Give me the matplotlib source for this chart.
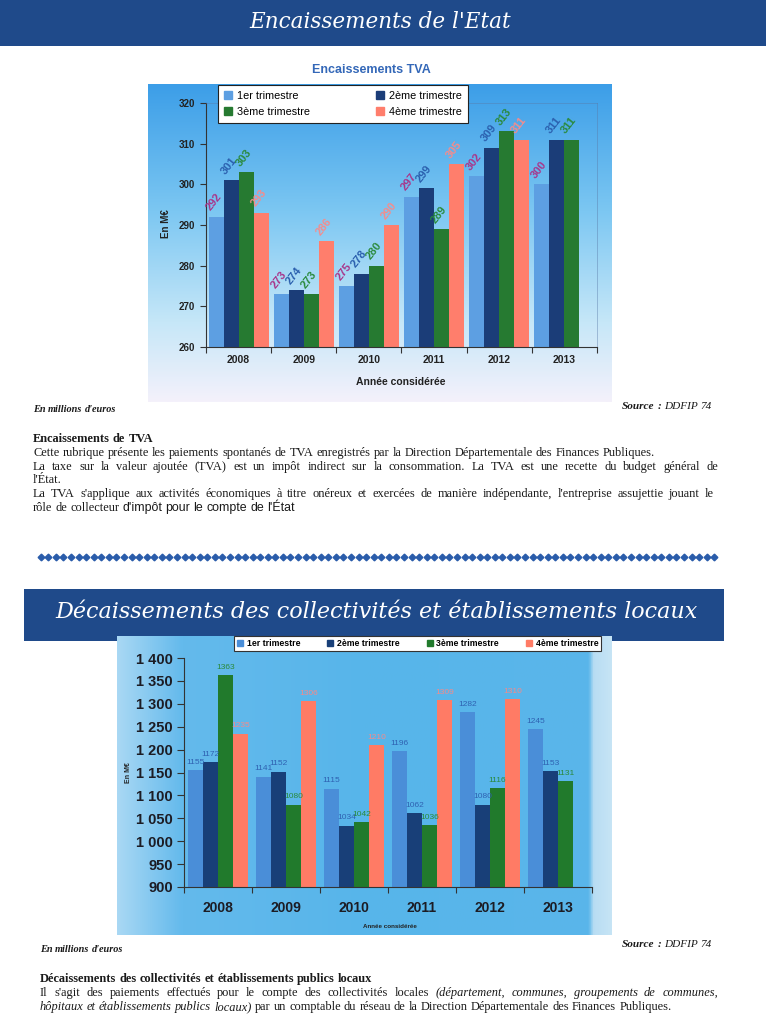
import matplotlib
matplotlib.use('Agg')

import numpy as np
import matplotlib.pyplot as plt
from matplotlib.patches import Patch
from matplotlib.colors import LinearSegmentedColormap
from matplotlib.ticker import FuncFormatter

plt.rcParams['font.family'] = ['Liberation Sans', 'DejaVu Sans']

# data
years = ['2008', '2009', '2010', '2011', '2012', '2013']
quarters = ['1er trimestre', '2ème trimestre', '3ème trimestre', '4ème trimestre']

tva_t1 = [292, 273, 275, 297, 302, 300]
tva_t2 = [301, 274, 278, 299, 309, 311]
tva_t3 = [303, 273, 280, 289, 313, 311]
tva_t4 = [293, 286, 290, 305, 311, None]

loc_t1 = [1155, 1141, 1115, 1196, 1282, 1245]
loc_t2 = [1172, 1152, 1034, 1062, 1080, 1153]
loc_t3 = [1363, 1080, 1042, 1036, 1116, 1131]
loc_t4 = [1235, 1306, 1210, 1309, 1310, None]

W, H = 766, 1024
fig = plt.figure(figsize=(W / 100, H / 100), dpi=100)
renderer = fig.canvas.get_renderer()


def rect(x0, y0, x1, y1):
    return [x0 / W, 1 - y1 / H, (x1 - x0) / W, (y1 - y0) / H]


def tw(s, **kw):
    t = fig.text(0, 0, s, **kw)
    w = t.get_window_extent(renderer=renderer).width
    t.remove()
    return w


def put_runs(x0, y, runs, size, x1=None, right=None, color='#1a1a1a'):
    words = [(w, kw) for s, kw in runs for w in s.split()]
    widths = [tw(w, fontsize=size, **kw) for w, kw in words]
    k0 = runs[0][1]
    gap = tw('a a', fontsize=size, **k0) - tw('aa', fontsize=size, **k0)
    if x1 is not None and len(words) > 1:
        gap = (x1 - x0 - sum(widths)) / (len(words) - 1)
    if right is not None:
        x0 = right - sum(widths) - gap * (len(words) - 1)
    x = x0
    for (w, kw), wd in zip(words, widths):
        fig.text(x / W, 1 - y / H, w, fontsize=size, va='baseline', ha='left',
                 color=color, **kw)
        x += wd + gap


SER = dict(family='Liberation Serif')
SER_I = dict(family='Liberation Serif', style='italic')
SER_B = dict(family='Liberation Serif', weight='bold')
SER_BI = dict(family='Liberation Serif', weight='bold', style='italic')
SANS = dict(family='Liberation Sans')

# ---------------- banners ----------------
b1 = fig.add_axes(rect(0, 0, 766, 46))
b1.set_facecolor('#1f4a8a')
b1.set_xticks([]); b1.set_yticks([])
for s in b1.spines.values():
    s.set_visible(False)
fig.text(380 / W, 1 - 22 / H, "Encaissements de l'Etat", family='DejaVu Serif',
         style='italic', fontsize=15.5, color='white', ha='center', va='center')

b2 = fig.add_axes(rect(24, 589, 724, 641))
b2.set_facecolor('#1f4a8a')
b2.set_xticks([]); b2.set_yticks([])
for s in b2.spines.values():
    s.set_visible(False)
fig.text(376 / W, 1 - 612 / H, "Décaissements des collectivités et établissements locaux",
         family='DejaVu Serif', style='italic', fontsize=16, color='white',
         ha='center', va='center')

# ---------------- chart 1 : TVA ----------------
fig.text(371 / W, 1 - 70 / H, 'Encaissements TVA', fontsize=9, weight='bold',
         color='#3468b8', ha='center', va='center')

bg1 = fig.add_axes(rect(148, 84, 612, 402))
cm1 = LinearSegmentedColormap.from_list('bg1', [(0, '#3c9ee8'), (0.4, '#7cc7f2'),
                                                (0.75, '#c6e7f8'), (1, '#f4f1fb')])
bg1.imshow(np.linspace(0, 1, 256)[:, None], cmap=cm1, aspect='auto',
           extent=[0, 1, 0, 1], origin='upper')
bg1.axis('off')

ax1 = fig.add_axes(rect(206, 103, 597, 347))
ax1.patch.set_alpha(0)
cols1 = ['#5d9fe2', '#1b3d78', '#267a31', '#ff7e6c']
lblc1 = ['#a8358a', '#2a5fae', '#2a8a3c', '#f48c8c']
bw = 0.23
x = np.arange(len(years))
for i, vals in enumerate([tva_t1, tva_t2, tva_t3, tva_t4]):
    xs = [xi + (i - 1.5) * bw for xi, v in zip(x, vals) if v is not None]
    vs = [v for v in vals if v is not None]
    ax1.bar(xs, [v - 260 for v in vs], bw, bottom=260, color=cols1[i], zorder=2)
    for xv, v in zip(xs, vs):
        ax1.annotate(str(v), xy=(xv, v), xytext=(-3, 3), textcoords='offset points',
                     rotation=52, rotation_mode='anchor', ha='left', va='bottom',
                     fontsize=8, weight='bold', color=lblc1[i], zorder=3)
ax1.set_ylim(260, 320)
ax1.set_xlim(-0.5, 5.5)
ax1.set_yticks(range(260, 321, 10))
ax1.set_xticks(np.arange(7) - 0.5, [''] * 7)
ax1.set_xticks(x, years, minor=True)
ax1.tick_params(axis='x', which='minor', length=0, pad=6, labelsize=7.5)
ax1.tick_params(axis='x', which='major', length=4, direction='out', color='#333')
ax1.tick_params(axis='y', length=4, direction='out', pad=4, labelsize=7, color='#333')
for lab in ax1.get_xticklabels(minor=True) + ax1.get_yticklabels():
    lab.set_fontweight('bold')
    lab.set_color('#222')
for s in ['left', 'bottom']:
    ax1.spines[s].set_color('#333')
    ax1.spines[s].set_linewidth(0.8)
for s in ['top', 'right']:
    ax1.spines[s].set_color('#5a7aa8')
    ax1.spines[s].set_linewidth(0.6)
    ax1.spines[s].set_alpha(0.5)

h1 = [Patch(color=c) for c in cols1]
leg1 = ax1.legend([h1[0], h1[2], h1[1], h1[3]],
                  [quarters[0], quarters[2], quarters[1], quarters[3]],
                  ncol=2, loc='upper left', bbox_to_anchor=(218 / W, 1 - 85 / H),
                  bbox_transform=fig.transFigure, borderaxespad=0, fontsize=7.8,
                  frameon=True, fancybox=False, edgecolor='#222', framealpha=1,
                  handlelength=0.7, handleheight=0.7, handletextpad=0.5,
                  columnspacing=6.1, borderpad=0.55, labelspacing=0.55)
leg1.get_frame().set_linewidth(0.8)

fig.text(401 / W, 1 - 382 / H, 'Année considérée', fontsize=7.5, weight='bold',
         color='#222', ha='center', va='center')
fig.text(166 / W, 1 - 224 / H, 'En M€', fontsize=7, weight='bold', color='#222',
         rotation=90, ha='center', va='center')

# ---------------- chart 2 : collectivites ----------------
bg2 = fig.add_axes(rect(117, 636, 612, 935))
cm2 = LinearSegmentedColormap.from_list('bg2', [(0, '#a9d8f4'), (0.13, '#64baec'),
                                                (0.5, '#57b5ea'), (0.955, '#5ab6ea'),
                                                (0.965, '#b8ddf3'), (1, '#c6e4f5')])
bg2.imshow(np.linspace(0, 1, 256)[None, :], cmap=cm2, aspect='auto',
           extent=[0, 1, 0, 1])
bg2.axis('off')

ax2 = fig.add_axes(rect(184, 658, 592, 887))
ax2.patch.set_alpha(0)
cols2 = ['#4a8ed8', '#183f78', '#217a2c', '#ff7b65']
lblc2 = ['#2f62b2', '#2f62b2', '#2a8a3c', '#f58a8a']
bw2 = 0.22
for i, vals in enumerate([loc_t1, loc_t2, loc_t3, loc_t4]):
    xs = [xi + (i - 1.5) * bw2 for xi, v in zip(x, vals) if v is not None]
    vs = [v for v in vals if v is not None]
    ax2.bar(xs, [v - 900 for v in vs], bw2, bottom=900, color=cols2[i], zorder=2)
    for xv, v in zip(xs, vs):
        ax2.annotate(str(v), xy=(xv, v), xytext=(0, 3), textcoords='offset points',
                     ha='center', va='bottom', fontsize=6, color=lblc2[i], zorder=3)
ax2.set_ylim(900, 1400)
ax2.set_xlim(-0.5, 5.5)
ax2.set_yticks(range(900, 1401, 50))
ax2.yaxis.set_major_formatter(FuncFormatter(lambda v, p: f'{int(v):,}'.replace(',', ' ')))
ax2.set_xticks(np.arange(7) - 0.5, [''] * 7)
ax2.set_xticks(x, years, minor=True)
ax2.tick_params(axis='x', which='minor', length=0, pad=10, labelsize=10)
ax2.tick_params(axis='x', which='major', length=4, direction='out', color='#333')
ax2.tick_params(axis='y', length=5, direction='out', pad=3, labelsize=10.5, color='#333')
for lab in ax2.get_xticklabels(minor=True) + ax2.get_yticklabels():
    lab.set_fontweight('bold')
    lab.set_color('#1c1c24')
for s in ['left', 'bottom']:
    ax2.spines[s].set_color('#333')
    ax2.spines[s].set_linewidth(0.8)
for s in ['top', 'right']:
    ax2.spines[s].set_visible(False)

h2 = [Patch(color=c) for c in cols2]
leg2 = ax2.legend(h2, quarters, ncol=4, loc='upper left',
                  bbox_to_anchor=(234 / W, 1 - 636 / H), bbox_transform=fig.transFigure,
                  borderaxespad=0, fontsize=6.3, frameon=True, fancybox=False,
                  edgecolor='#333', framealpha=1, handlelength=0.7, handleheight=0.7,
                  handletextpad=0.4, columnspacing=3.1, borderpad=0.35)
leg2.get_frame().set_linewidth(0.8)
for t in leg2.get_texts():
    t.set_fontweight('bold')

fig.text(390 / W, 1 - 927 / H, 'Année considérée', fontsize=4.5, weight='bold',
         color='#222', ha='center', va='center')
fig.text(128 / W, 1 - 773 / H, 'En M€', fontsize=5, weight='bold', color='#222',
         rotation=90, ha='center', va='center')

# ---------------- body text ----------------
line1 = ("Cette rubrique présente les paiements spontanés de TVA enregistrés par "
         "la Direction Départementale des Finances Publiques.")
fs = 10 * 622 / tw(line1, fontsize=10, **SER)

put_runs(33, 412, [("En millions d'euros", SER_BI)], fs * 0.82)
put_runs(0, 409, [("Source :", SER_BI), ("DDFIP 74", SER_I)], fs * 0.9, right=712)
put_runs(33, 442, [("Encaissements de TVA", SER_B)], fs)
put_runs(33, 456, [(line1, SER)], fs)
put_runs(33, 470, [("La taxe sur la valeur ajoutée (TVA) est un impôt indirect sur la "
                    "consommation. La TVA est une recette du budget général de", SER)],
         fs, x1=718)
put_runs(33, 483, [("l'État.", SER)], fs)
put_runs(33, 497, [("La TVA s'applique aux activités économiques à titre onéreux et "
                    "exercées de manière indépendante, l'entreprise assujettie jouant le",
                    SER)], fs, x1=714)
put_runs(33, 511, [("rôle de collecteur", SER), ("d'impôt pour le compte de l'État", SANS)],
         fs)

# row of diamonds separating the two sections
sep = fig.add_axes(rect(37, 552, 718, 562))
sep.plot(np.arange(90), np.zeros(90), linestyle='none', marker='D', markersize=3.4,
         color='#2a5caa')
sep.set_xlim(-0.5, 89.5)
sep.axis('off')

put_runs(40, 952, [("En millions d'euros", SER_BI)], fs * 0.82)
put_runs(0, 947, [("Source :", SER_BI), ("DDFIP 74", SER_I)], fs * 0.9, right=712)
put_runs(40, 982, [("Décaissements des collectivités et établissements publics locaux",
                    SER_B)], fs)
put_runs(40, 996, [("Il s'agit des paiements effectués pour le compte des collectivités "
                    "locales", SER),
                   ("(département, communes, groupements de communes,", SER_I)],
         fs, x1=718)
put_runs(40, 1010, [("hôpitaux et établissements publics locaux)", SER_I),
                    ("par un comptable du réseau de la Direction Départementale des "
                     "Finances Publiques.", SER)], fs)

fig.savefig('out.png', dpi=100, facecolor='white')
